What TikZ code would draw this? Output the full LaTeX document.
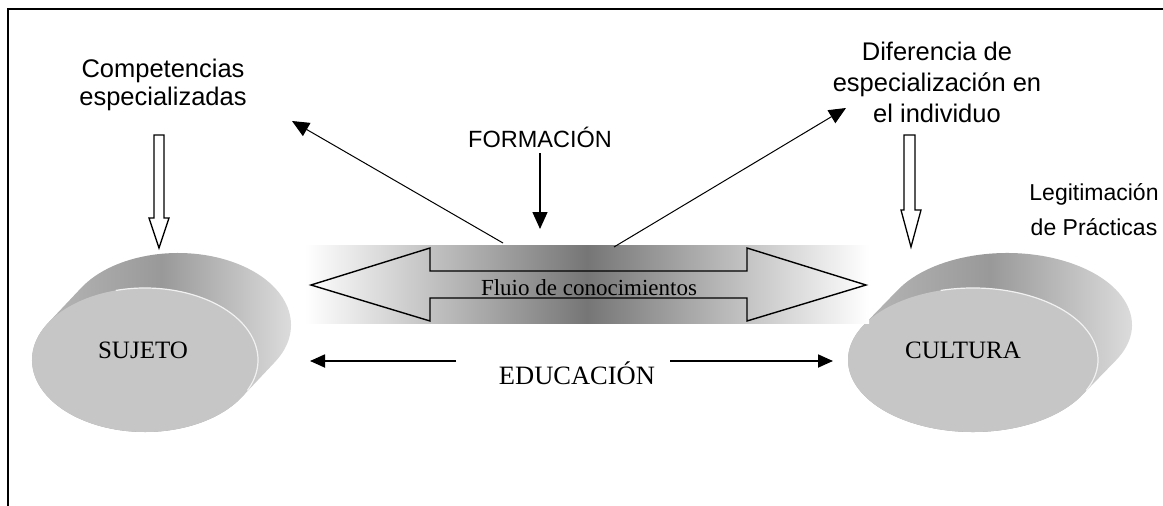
\documentclass[tikz,border=0pt]{standalone}
\usepackage{fontspec}
\setmainfont{Liberation Serif}
\newfontfamily\sansf{Liberation Sans}
\usetikzlibrary{arrows.meta,calc}
\definecolor{frontc}{HTML}{C6C6C6}
\definecolor{sided}{HTML}{999999}
\definecolor{sidem}{HTML}{BDBDBD}
\definecolor{sidel}{HTML}{E4E4E4}
\definecolor{bandd}{HTML}{767676}
\begin{document}
\begin{tikzpicture}[x=1pt,y=1pt,
  lab/.style={font=\sansf\fontsize{25.5}{28}\selectfont, align=center, inner sep=0pt},
  serif/.style={font=\fontsize{25}{28}\selectfont, inner sep=0pt},
  thin arrow/.style={-{Triangle[length=17pt,width=15pt]}, line width=1pt},
  edu arrow/.style={-{Triangle[length=15pt,width=13pt]}, line width=1.8pt},
  hollow/.style={draw=black, line width=1.3pt, fill=white, line join=miter},
  sideshade/.style={left color=sidem, right color=sidel, middle color=sided}]
\useasboundingbox (0,0) rectangle (1163,-506);
% frame
\draw[line width=1.8pt] (8,-506) -- (8,-9) -- (1163,-9);

% ---- SUJETO cylinder
\coordinate (sC) at (145,-360);
\shade[sideshade]
  ($(sC)+(-31:113 and 72)$) -- ++(33,35)
  arc[start angle=-31,end angle=149,x radius=113,y radius=72] -- ++(-33,-35)
  arc[start angle=149,end angle=329,x radius=113,y radius=72] -- cycle;
\fill[frontc] (sC) ellipse[x radius=113, y radius=72];
\draw[white!75!frontc, line width=1.2pt] ($(sC)+(105:113 and 72)$)
  arc[start angle=105,end angle=-25,x radius=113,y radius=72];
\node[serif] (sujeto) at (143,-350) {SUJETO};

% ---- CULTURA cylinder
\coordinate (cC) at (973,-360);
\shade[sideshade]
  ($(cC)+(-29.2:125 and 72)$) -- ++(34,35)
  arc[start angle=-29.2,end angle=150.8,x radius=125,y radius=72] -- ++(-34,-35)
  arc[start angle=150.8,end angle=330.8,x radius=125,y radius=72] -- cycle;
\fill[frontc] (cC) ellipse[x radius=125, y radius=72];
\draw[white!75!frontc, line width=1.2pt] ($(cC)+(105:125 and 72)$)
  arc[start angle=105,end angle=-25,x radius=125,y radius=72];
\node[serif] (cultura) at (963,-350) {CULTURA};

% ---- gradient band
\shade[left color=white, right color=white, middle color=bandd] (305,-245) rectangle (869,-323);

% ---- double block arrow
\draw[line width=1.4pt, line join=miter]
  (311,-285) -- (430,-248) -- (430,-271) -- (747,-271) -- (747,-248) -- (866,-285)
  -- (747,-321) -- (747,-298) -- (430,-298) -- (430,-321) -- cycle;
\node[font=\fontsize{23}{26}\selectfont, inner sep=0pt] (flujo) at (589,-288) {Fluio de conocimientos};

% ---- labels
\node[lab] (comp) at (163,-85) {Competencias\\especializadas};
\node[lab, font=\sansf\fontsize{23.5}{27}\selectfont] (form) at (540,-137) {FORMACIÓN};
\node[lab, font=\sansf\fontsize{25.5}{31}\selectfont] (dif) at (937,-82) {Diferencia de\\especialización en\\el individuo};
\node[lab, font=\sansf\fontsize{23}{35}\selectfont] (leg) at (1094,-210) {Legitimación\\de Prácticas};
\node[serif, font=\fontsize{26.5}{30}\selectfont] (edu) at (577,-373) {EDUCACIÓN};

% ---- hollow arrows
\draw[hollow] (154,-135) -- (164,-135) -- (164,-218) -- (169,-218) -- (159,-248)
  -- (149,-218) -- (154,-218) -- cycle;
\draw[hollow] (904,-135) -- (915,-135) -- (915,-210) -- (921,-210) -- (911,-247)
  -- (901,-210) -- (904,-210) -- cycle;

% ---- thin arrows
\coordinate (fTop) at (540,-153);
\coordinate (fBot) at (540,-229);
\draw[thin arrow, line width=1.4pt] (fTop) -- (fBot);
\coordinate (lA) at (503,-243);
\coordinate (lB) at (292,-121);
\draw[thin arrow] (lA) -- (lB);
\coordinate (rA) at (614,-247);
\coordinate (rB) at (846,-108);
\draw[thin arrow] (rA) -- (rB);

% ---- education arrows
\coordinate (eL1) at (456,-361);
\coordinate (eL2) at (310,-361);
\coordinate (eR1) at (670,-361);
\coordinate (eR2) at (833,-361);
\draw[edu arrow] (eL1) -- (eL2);
\draw[edu arrow] (eR1) -- (eR2);
\end{tikzpicture}
\end{document}
